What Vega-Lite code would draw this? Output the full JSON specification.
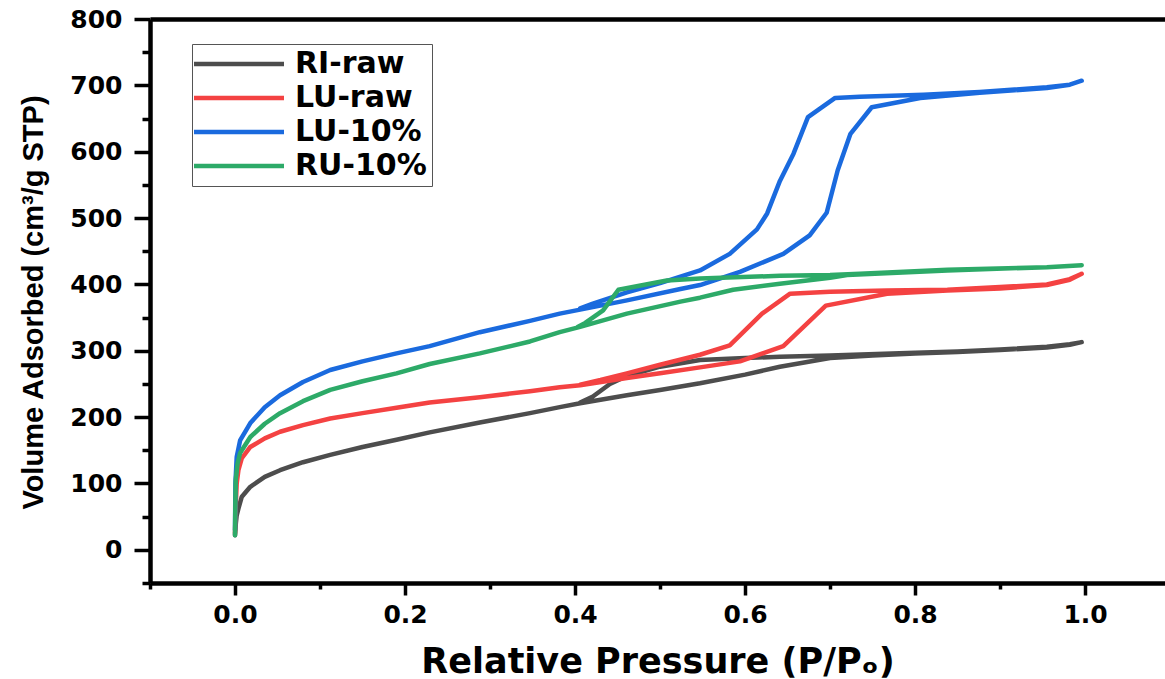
{
  "$schema": "https://vega.github.io/schema/vega-lite/v6.json",
  "width": 1015,
  "height": 564,
  "autosize": {"type": "none"},
  "padding": {"left": 150, "top": 19, "right": 0, "bottom": 96},
  "background": "white",
  "config": {"view": {"stroke": null}, "font": "DejaVu Sans"},
  "datasets": {
    "iso": [
      {"s": "RI-raw", "i": 1, "x": 0.0, "y": 22},
      {"s": "RI-raw", "i": 2, "x": 0.001, "y": 40},
      {"s": "RI-raw", "i": 3, "x": 0.002, "y": 52},
      {"s": "RI-raw", "i": 4, "x": 0.004, "y": 62},
      {"s": "RI-raw", "i": 5, "x": 0.008, "y": 80},
      {"s": "RI-raw", "i": 6, "x": 0.018, "y": 95},
      {"s": "RI-raw", "i": 7, "x": 0.035, "y": 110},
      {"s": "RI-raw", "i": 8, "x": 0.053, "y": 120},
      {"s": "RI-raw", "i": 9, "x": 0.08, "y": 132},
      {"s": "RI-raw", "i": 10, "x": 0.112, "y": 143},
      {"s": "RI-raw", "i": 11, "x": 0.15, "y": 155},
      {"s": "RI-raw", "i": 12, "x": 0.19, "y": 166},
      {"s": "RI-raw", "i": 13, "x": 0.229, "y": 177},
      {"s": "RI-raw", "i": 14, "x": 0.288, "y": 192},
      {"s": "RI-raw", "i": 15, "x": 0.347, "y": 206},
      {"s": "RI-raw", "i": 16, "x": 0.382, "y": 215},
      {"s": "RI-raw", "i": 17, "x": 0.406, "y": 221},
      {"s": "RI-raw", "i": 18, "x": 0.461, "y": 233},
      {"s": "RI-raw", "i": 19, "x": 0.5, "y": 241},
      {"s": "RI-raw", "i": 20, "x": 0.547, "y": 251},
      {"s": "RI-raw", "i": 21, "x": 0.6, "y": 264},
      {"s": "RI-raw", "i": 22, "x": 0.641, "y": 276},
      {"s": "RI-raw", "i": 23, "x": 0.7, "y": 289},
      {"s": "RI-raw", "i": 24, "x": 0.75, "y": 293},
      {"s": "RI-raw", "i": 25, "x": 0.8, "y": 296},
      {"s": "RI-raw", "i": 26, "x": 0.85, "y": 298},
      {"s": "RI-raw", "i": 27, "x": 0.9, "y": 301},
      {"s": "RI-raw", "i": 28, "x": 0.955, "y": 305},
      {"s": "RI-raw", "i": 29, "x": 0.982, "y": 309},
      {"s": "RI-raw", "i": 30, "x": 0.996, "y": 313},
      {"s": "RI-raw", "i": 31, "x": 0.982, "y": 310},
      {"s": "RI-raw", "i": 32, "x": 0.955, "y": 306},
      {"s": "RI-raw", "i": 33, "x": 0.9, "y": 302},
      {"s": "RI-raw", "i": 34, "x": 0.85, "y": 299},
      {"s": "RI-raw", "i": 35, "x": 0.8, "y": 297},
      {"s": "RI-raw", "i": 36, "x": 0.7, "y": 293},
      {"s": "RI-raw", "i": 37, "x": 0.641, "y": 291},
      {"s": "RI-raw", "i": 38, "x": 0.6, "y": 289},
      {"s": "RI-raw", "i": 39, "x": 0.547, "y": 286},
      {"s": "RI-raw", "i": 40, "x": 0.5, "y": 276},
      {"s": "RI-raw", "i": 41, "x": 0.461, "y": 262},
      {"s": "RI-raw", "i": 42, "x": 0.441, "y": 250},
      {"s": "RI-raw", "i": 43, "x": 0.421, "y": 231},
      {"s": "RI-raw", "i": 44, "x": 0.406, "y": 222},

      {"s": "LU-raw", "i": 1, "x": 0.0, "y": 25},
      {"s": "LU-raw", "i": 2, "x": 0.001, "y": 70},
      {"s": "LU-raw", "i": 3, "x": 0.002, "y": 100},
      {"s": "LU-raw", "i": 4, "x": 0.004, "y": 120},
      {"s": "LU-raw", "i": 5, "x": 0.008, "y": 138},
      {"s": "LU-raw", "i": 6, "x": 0.018, "y": 155},
      {"s": "LU-raw", "i": 7, "x": 0.035, "y": 168},
      {"s": "LU-raw", "i": 8, "x": 0.053, "y": 178},
      {"s": "LU-raw", "i": 9, "x": 0.08, "y": 188},
      {"s": "LU-raw", "i": 10, "x": 0.112, "y": 198},
      {"s": "LU-raw", "i": 11, "x": 0.15, "y": 206},
      {"s": "LU-raw", "i": 12, "x": 0.19, "y": 214},
      {"s": "LU-raw", "i": 13, "x": 0.229, "y": 222},
      {"s": "LU-raw", "i": 14, "x": 0.288, "y": 230},
      {"s": "LU-raw", "i": 15, "x": 0.347, "y": 239},
      {"s": "LU-raw", "i": 16, "x": 0.382, "y": 245},
      {"s": "LU-raw", "i": 17, "x": 0.406, "y": 248},
      {"s": "LU-raw", "i": 18, "x": 0.461, "y": 259},
      {"s": "LU-raw", "i": 19, "x": 0.5, "y": 266},
      {"s": "LU-raw", "i": 20, "x": 0.547, "y": 275},
      {"s": "LU-raw", "i": 21, "x": 0.594, "y": 284},
      {"s": "LU-raw", "i": 22, "x": 0.645, "y": 307},
      {"s": "LU-raw", "i": 23, "x": 0.695, "y": 368},
      {"s": "LU-raw", "i": 24, "x": 0.767, "y": 386},
      {"s": "LU-raw", "i": 25, "x": 0.838, "y": 391},
      {"s": "LU-raw", "i": 26, "x": 0.9, "y": 394},
      {"s": "LU-raw", "i": 27, "x": 0.955, "y": 399},
      {"s": "LU-raw", "i": 28, "x": 0.982, "y": 407},
      {"s": "LU-raw", "i": 29, "x": 0.996, "y": 416},
      {"s": "LU-raw", "i": 30, "x": 0.982, "y": 408},
      {"s": "LU-raw", "i": 31, "x": 0.955, "y": 400},
      {"s": "LU-raw", "i": 32, "x": 0.9, "y": 396},
      {"s": "LU-raw", "i": 33, "x": 0.838, "y": 392},
      {"s": "LU-raw", "i": 34, "x": 0.767, "y": 391},
      {"s": "LU-raw", "i": 35, "x": 0.7, "y": 389},
      {"s": "LU-raw", "i": 36, "x": 0.653, "y": 386},
      {"s": "LU-raw", "i": 37, "x": 0.62, "y": 356},
      {"s": "LU-raw", "i": 38, "x": 0.582, "y": 308},
      {"s": "LU-raw", "i": 39, "x": 0.547, "y": 294},
      {"s": "LU-raw", "i": 40, "x": 0.5, "y": 279},
      {"s": "LU-raw", "i": 41, "x": 0.461, "y": 266},
      {"s": "LU-raw", "i": 42, "x": 0.43, "y": 256},
      {"s": "LU-raw", "i": 43, "x": 0.406, "y": 249},

      {"s": "LU-10%", "i": 1, "x": 0.0, "y": 30},
      {"s": "LU-10%", "i": 2, "x": 0.0005, "y": 100},
      {"s": "LU-10%", "i": 3, "x": 0.002, "y": 140},
      {"s": "LU-10%", "i": 4, "x": 0.006, "y": 165},
      {"s": "LU-10%", "i": 5, "x": 0.018, "y": 191},
      {"s": "LU-10%", "i": 6, "x": 0.035, "y": 215},
      {"s": "LU-10%", "i": 7, "x": 0.053, "y": 233},
      {"s": "LU-10%", "i": 8, "x": 0.08, "y": 253},
      {"s": "LU-10%", "i": 9, "x": 0.112, "y": 271},
      {"s": "LU-10%", "i": 10, "x": 0.15, "y": 284},
      {"s": "LU-10%", "i": 11, "x": 0.19, "y": 296},
      {"s": "LU-10%", "i": 12, "x": 0.229, "y": 307},
      {"s": "LU-10%", "i": 13, "x": 0.288, "y": 328},
      {"s": "LU-10%", "i": 14, "x": 0.347, "y": 345},
      {"s": "LU-10%", "i": 15, "x": 0.382, "y": 356},
      {"s": "LU-10%", "i": 16, "x": 0.406, "y": 362},
      {"s": "LU-10%", "i": 17, "x": 0.461, "y": 376},
      {"s": "LU-10%", "i": 18, "x": 0.524, "y": 393},
      {"s": "LU-10%", "i": 19, "x": 0.547, "y": 399},
      {"s": "LU-10%", "i": 20, "x": 0.594, "y": 419},
      {"s": "LU-10%", "i": 21, "x": 0.645, "y": 446},
      {"s": "LU-10%", "i": 22, "x": 0.676, "y": 474},
      {"s": "LU-10%", "i": 23, "x": 0.696, "y": 508},
      {"s": "LU-10%", "i": 24, "x": 0.709, "y": 572},
      {"s": "LU-10%", "i": 25, "x": 0.724, "y": 627},
      {"s": "LU-10%", "i": 26, "x": 0.749, "y": 667},
      {"s": "LU-10%", "i": 27, "x": 0.806, "y": 681},
      {"s": "LU-10%", "i": 28, "x": 0.876, "y": 689},
      {"s": "LU-10%", "i": 29, "x": 0.955, "y": 696},
      {"s": "LU-10%", "i": 30, "x": 0.982, "y": 701},
      {"s": "LU-10%", "i": 31, "x": 0.996, "y": 707},
      {"s": "LU-10%", "i": 32, "x": 0.982, "y": 701},
      {"s": "LU-10%", "i": 33, "x": 0.955, "y": 697},
      {"s": "LU-10%", "i": 34, "x": 0.876, "y": 690},
      {"s": "LU-10%", "i": 35, "x": 0.81, "y": 686},
      {"s": "LU-10%", "i": 36, "x": 0.735, "y": 683},
      {"s": "LU-10%", "i": 37, "x": 0.706, "y": 681},
      {"s": "LU-10%", "i": 38, "x": 0.674, "y": 652},
      {"s": "LU-10%", "i": 39, "x": 0.657, "y": 597},
      {"s": "LU-10%", "i": 40, "x": 0.641, "y": 556},
      {"s": "LU-10%", "i": 41, "x": 0.626, "y": 507},
      {"s": "LU-10%", "i": 42, "x": 0.614, "y": 483},
      {"s": "LU-10%", "i": 43, "x": 0.582, "y": 446},
      {"s": "LU-10%", "i": 44, "x": 0.547, "y": 421},
      {"s": "LU-10%", "i": 45, "x": 0.5, "y": 402},
      {"s": "LU-10%", "i": 46, "x": 0.461, "y": 388},
      {"s": "LU-10%", "i": 47, "x": 0.421, "y": 371},
      {"s": "LU-10%", "i": 48, "x": 0.406, "y": 364},

      {"s": "RU-10%", "i": 1, "x": 0.0, "y": 22},
      {"s": "RU-10%", "i": 2, "x": 0.0003, "y": 60},
      {"s": "RU-10%", "i": 3, "x": 0.0008, "y": 105},
      {"s": "RU-10%", "i": 4, "x": 0.003, "y": 130},
      {"s": "RU-10%", "i": 5, "x": 0.006, "y": 146},
      {"s": "RU-10%", "i": 6, "x": 0.018, "y": 170},
      {"s": "RU-10%", "i": 7, "x": 0.035, "y": 190},
      {"s": "RU-10%", "i": 8, "x": 0.053, "y": 206},
      {"s": "RU-10%", "i": 9, "x": 0.08, "y": 224},
      {"s": "RU-10%", "i": 10, "x": 0.112, "y": 241},
      {"s": "RU-10%", "i": 11, "x": 0.15, "y": 254},
      {"s": "RU-10%", "i": 12, "x": 0.19, "y": 266},
      {"s": "RU-10%", "i": 13, "x": 0.229, "y": 280},
      {"s": "RU-10%", "i": 14, "x": 0.288, "y": 296},
      {"s": "RU-10%", "i": 15, "x": 0.347, "y": 314},
      {"s": "RU-10%", "i": 16, "x": 0.382, "y": 328},
      {"s": "RU-10%", "i": 17, "x": 0.406, "y": 336},
      {"s": "RU-10%", "i": 18, "x": 0.461, "y": 356},
      {"s": "RU-10%", "i": 19, "x": 0.524, "y": 374},
      {"s": "RU-10%", "i": 20, "x": 0.547, "y": 380},
      {"s": "RU-10%", "i": 21, "x": 0.586, "y": 392},
      {"s": "RU-10%", "i": 22, "x": 0.641, "y": 401},
      {"s": "RU-10%", "i": 23, "x": 0.7, "y": 410},
      {"s": "RU-10%", "i": 24, "x": 0.72, "y": 414},
      {"s": "RU-10%", "i": 25, "x": 0.838, "y": 421},
      {"s": "RU-10%", "i": 26, "x": 0.955, "y": 426},
      {"s": "RU-10%", "i": 27, "x": 0.996, "y": 429},
      {"s": "RU-10%", "i": 28, "x": 0.955, "y": 426},
      {"s": "RU-10%", "i": 29, "x": 0.838, "y": 422},
      {"s": "RU-10%", "i": 30, "x": 0.735, "y": 416},
      {"s": "RU-10%", "i": 31, "x": 0.7, "y": 414},
      {"s": "RU-10%", "i": 32, "x": 0.641, "y": 413},
      {"s": "RU-10%", "i": 33, "x": 0.547, "y": 409},
      {"s": "RU-10%", "i": 34, "x": 0.508, "y": 406},
      {"s": "RU-10%", "i": 35, "x": 0.451, "y": 392},
      {"s": "RU-10%", "i": 36, "x": 0.433, "y": 361},
      {"s": "RU-10%", "i": 37, "x": 0.412, "y": 342},
      {"s": "RU-10%", "i": 38, "x": 0.403, "y": 336}
    ]
  },
  "data": {"name": "iso"},
  "layer": [
    {
      "mark": {"type": "line", "strokeWidth": 4.5, "strokeCap": "round", "strokeJoin": "round"},
      "encoding": {
        "x": {
          "field": "x", "type": "quantitative",
          "scale": {"domain": [-0.1, 1.094], "nice": false, "zero": false},
          "axis": {
            "orient": "bottom",
            "values": [0, 0.2, 0.4, 0.6, 0.8, 1.0],
            "format": ".1f",
            "tickSize": 12, "tickWidth": 3.5, "tickColor": "black",
            "domainColor": "black", "domainWidth": 4.5,
            "grid": false,
            "labelFont": "DejaVu Sans", "labelFontWeight": "bold", "labelFontSize": 25, "labelColor": "black",
            "labelPadding": 7, "labelFlush": false, "labelOverlap": false,
            "title": "Relative Pressure (P/Pₒ)",
            "titleFont": "DejaVu Sans", "titleFontWeight": "bold", "titleFontSize": 35, "titleColor": "black",
            "titleBaseline": "alphabetic", "titleY": 89
          }
        },
        "y": {
          "field": "y", "type": "quantitative",
          "scale": {"domain": [-50, 800], "nice": false, "zero": false},
          "axis": {
            "orient": "left",
            "values": [0, 100, 200, 300, 400, 500, 600, 700, 800],
            "tickSize": 16, "tickWidth": 3.5, "tickColor": "black",
            "domainColor": "black", "domainWidth": 4.5,
            "grid": false,
            "labelFont": "DejaVu Sans", "labelFontWeight": "bold", "labelFontSize": 25, "labelColor": "black",
            "labelPadding": 12, "labelFlush": false, "labelOverlap": false,
            "title": "Volume Adsorbed (cm³/g STP)",
            "titleFont": "Liberation Sans", "titleFontWeight": "bold", "titleFontSize": 29, "titleColor": "black",
            "titleBaseline": "alphabetic", "titleX": -108, "titleY": 283, "titleAngle": 270, "titleAlign": "center"
          }
        },
        "color": {
          "field": "s", "type": "nominal",
          "scale": {"domain": ["RI-raw", "LU-raw", "LU-10%", "RU-10%"], "range": ["#4d4d4d", "#f44242", "#1a6ade", "#2daa68"]},
          "legend": {
            "orient": "none", "legendX": 42, "legendY": 25,
            "title": null,
            "symbolType": "M-4.5,0H4.5", "symbolSize": 400, "symbolStrokeWidth": 4.5, "symbolOffset": 27,
            "labelFont": "DejaVu Sans", "labelFontWeight": "bold", "labelFontSize": 30, "labelColor": "black",
            "labelOffset": 41, "padding": 5, "rowPadding": 4,
            "strokeColor": "#555555", "fillColor": "white"
          }
        },
        "order": {"field": "i", "type": "quantitative"}
      }
    },
    {
      "mark": {"type": "line", "strokeOpacity": 0},
      "encoding": {
        "x": {
          "field": "x", "type": "quantitative",
          "axis": {"orient": "bottom", "values": [-0.1, 0.1, 0.3, 0.5, 0.7, 0.9], "labels": false, "domain": false, "tickSize": 6, "tickWidth": 3.5, "tickColor": "black", "title": null, "grid": false}
        },
        "y": {
          "field": "y", "type": "quantitative",
          "axis": {"orient": "left", "values": [-50, 50, 150, 250, 350, 450, 550, 650, 750], "labels": false, "domain": false, "tickSize": 8, "tickWidth": 3.5, "tickColor": "black", "title": null, "grid": false}
        },
        "detail": {"field": "s", "type": "nominal"}
      }
    },
    {
      "mark": {"type": "line", "strokeOpacity": 0},
      "encoding": {
        "x": {
          "field": "x", "type": "quantitative",
          "axis": {"orient": "top", "labels": false, "ticks": false, "domain": true, "domainColor": "black", "domainWidth": 4.5, "title": null, "grid": false}
        },
        "y": {"field": "y", "type": "quantitative", "axis": null},
        "detail": {"field": "s", "type": "nominal"}
      }
    }
  ],
  "resolve": {"axis": {"x": "independent", "y": "independent"}}
}
